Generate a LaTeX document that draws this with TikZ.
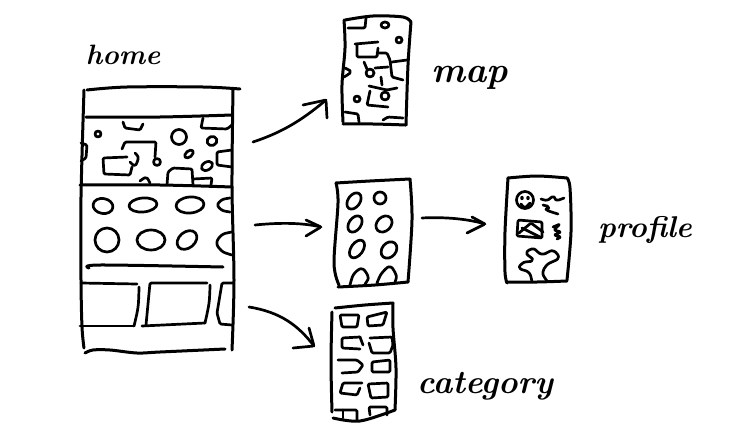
\documentclass[tikz,border=0pt]{standalone}
\usepackage{tikz}
\tikzset{
	sketch/.style={line width=2.7pt, line cap=round, line join=round, rounded corners=1.2pt},
	frameline/.style={line width=3pt, line cap=round, line join=round},
	word/.style={inner sep=0pt, font=\fontsize{#1}{#1}\selectfont\bfseries\itshape},
}
\def\blob(#1)(#2:#3:#4){\draw[sketch,rounded corners=0pt,rotate around={#4:(#1)}] (#1) ellipse ({#2} and {#3});}
\def\wob#1{\draw[frameline] plot[smooth,tension=.55] coordinates {#1};}
\def\pen#1{\draw[sketch] plot[smooth,tension=.6] coordinates {#1};}

\begin{document}
\begin{tikzpicture}[x=1pt,y=-1pt]
	%%%%% START %%%%%
	\useasboundingbox (0,0) rectangle (750,439);

	\node[word=28] (homelabel) at (123,55) {home};
	\node[word=36] (maplabel) at (470,78) {map};
	\node[word=30] (profilelabel) at (645,230) {profile};
	\node[word=33] (categorylabel) at (485,386) {category};

	% home frame
	\wob{(87,90) (127,87) (203,87) (240,89)}
	\wob{(84,90) (81,197) (81,280) (82,327) (84,348)}
	\wob{(233,90) (232,187) (234,280) (232,350)}
	\wob{(86,117) (160,117) (232,115)}
	\wob{(80,185) (160,185) (232,187)}
	\wob{(85,353) (93,350) (110,350) (137,353) (160,352) (225,349)}
	\wob{(89,268) (100,265) (223,267)}

	% home map strip
	\blob(98,134)(3:3:0)
	\draw[sketch] (123,122) -- (125,128) -- (140,130) -- (143,124);
	\blob(179,137)(7.5:7.5:0)
	\blob(212,141)(5:4.5:20)
	\draw[sketch] (203,118) -- (201,128) -- (227,129) -- (232,125);
	\draw[sketch] (81,143) -- (87,145) -- (86,158) -- (81,161);
	\draw[sketch] (122,149) -- (125,142) -- (156,142) -- (155,157);
	\draw[sketch] (127,157) -- (103,158) -- (104,174) -- (130,175) -- (132,167);
	\pen{(135,153) (138,158) (135,165) (130,162)}
	\blob(157,162)(3.5:3.5:0)
	\blob(189,154)(5:3:40)
	\blob(207,166)(6:4:30)
	\draw[sketch] (232,150) -- (217,152) -- (217,165) -- (232,167);
	\draw[sketch] (167,185) -- (168,172) -- (173,168) -- (192,169) -- (193,185);
	\draw[sketch] (193,179) -- (212,178) -- (211,185);
	\pen{(140,181) (146,178) (150,183)}

	% home rows of spots
	\blob(103,206)(10:7.5:-10)
	\blob(143,205)(14:7:5)
	\blob(190,205)(14:8:5)
	\pen{(230,198) (222,200) (218,205) (222,210) (230,212)}
	\blob(107,240)(12:12:0)
	\blob(151,240)(14:10:0)
	\blob(187,240)(11:8:40)
	\pen{(232,232) (222,235) (217,243) (222,251) (232,255)}

	% home cards
	\draw[sketch] (81,283) -- (137,284);
	\pen{(139,287) (138,307) (134,326)}
	\draw[sketch] (80,326) -- (134,326);
	\draw[sketch] (146,325) -- (150,283) -- (207,283);
	\pen{(210,285) (209,303) (205,323)}
	\draw[sketch] (142,326) -- (205,323);
	\draw[sketch] (233,283) -- (222,283) -- (217,313) -- (220,324) -- (232,325);

	% map phone
	\wob{(345,20) (373,16) (403,17) (411,22)}
	\wob{(411,22) (408,65) (406,125)}
	\wob{(344,20) (345,48) (342,85) (343,122)}
	\wob{(343,124) (373,124) (406,125)}
	\draw[sketch] (348,28) -- (365,28) -- (366,18);
	\blob(385,25)(4:3:0)
	\blob(399,40)(3:3:0)
	\draw[sketch] (355,44) -- (378,42);
	\draw[sketch] (357,45) -- (357,57) -- (377,57) -- (378,48);
	\draw[sketch] (377,53) -- (387,53) -- (390,60) -- (392,77) -- (403,80);
	\draw[sketch] (392,62) -- (407,60);
	\draw[sketch] (364,62) -- (367,69);
	\blob(370,73)(4:4:0)
	\draw[sketch] (375,68) -- (388,67);
	\draw[sketch] (381,77) -- (382,85);
	\draw[sketch] (369,86) -- (387,90) -- (397,88);
	\blob(385,96)(4:4:0)
	\draw[sketch] (370,91) -- (367,105) -- (388,107);
	\pen{(345,68) (350,72) (344,77)}
	\blob(357,99)(3:3:0)
	\draw[sketch] (345,112) -- (358,114) -- (359,122);
	\draw[sketch] (383,120) -- (388,117) -- (403,118);

	% spots phone
	\wob{(336,183) (370,181) (410,179)}
	\wob{(410,179) (412,220) (408,282)}
	\wob{(338,287) (375,285) (408,282)}
	\wob{(336,183) (338,203) (334,263) (339,285)}
	\blob(354,201)(9:6:55)
	\blob(380,198)(6:6:0)
	\blob(355,224)(9:6:55)
	\blob(384,224)(9:7:45)
	\blob(357,249)(10:6:55)
	\blob(389,250)(9:7:50)
	\pen{(350,285) (354,274) (362,269) (368,277) (365,284)}
	\pen{(377,283) (382,273) (390,267) (396,275) (395,282)}

	% profile phone
	\wob{(508,178) (537,176) (567,178)}
	\wob{(567,178) (570,188) (571,232) (567,280)}
	\wob{(507,282) (537,282) (567,281)}
	\wob{(508,178) (505,232) (505,272) (507,283)}
	\blob(525,200)(8.5:8.5:0)
	\blob(522,198)(.6:.8:0)
	\blob(528,198)(.6:.8:0)
	\pen{(521,204) (525,207) (530,203)}
	\pen{(541,199) (547,200) (553,197) (557,200) (564,198)}
	\pen{(543,205) (548,207) (547,210) (558,214)}
	\draw[sketch] (518,220) -- (542,222) -- (542,238) -- (517,236) -- cycle;
	\draw[sketch] (519,233) -- (531,223) -- (543,232);
	\draw[sketch] (522,228) -- (540,237);
	\draw[sketch] (553,227) -- (560,224) -- (554,230) -- (561,232) -- (554,235) -- (561,237) -- (557,239);
	\pen{(532,282) (529,273) (520,268) (523,263) (532,260) (527,253) (533,249) (542,254) (553,251) (558,258) (547,265) (543,273) (547,281)}

	% category phone
	\wob{(335,308) (365,305) (393,303)}
	\wob{(393,303) (393,328) (396,368) (395,410)}
	\wob{(333,418) (360,421) (395,410)}
	\wob{(332,312) (331,362) (332,412)}
	\draw[sketch] (340,315) -- (359,315) -- (357,327) -- (342,327) -- cycle;
	\draw[sketch] (367,317) -- (387,312) -- (383,325) -- (368,326) -- cycle;
	\draw[sketch] (360,337) -- (342,338) -- (342,348) -- (360,349);
	\draw[sketch] (360,337) -- (363,345);
	\draw[sketch] (370,338) -- (392,337) -- (393,345) -- (390,353) -- (372,353) -- (369,343);
	\draw[sketch] (338,360) -- (357,360) -- (363,365) -- (358,372) -- (342,373);
	\draw[sketch] (372,362) -- (390,360) -- (390,372) -- (372,372) -- cycle;
	\draw[sketch] (362,383) -- (343,383) -- (340,393) -- (357,395) -- (360,388);
	\draw[sketch] (368,384) -- (388,383) -- (388,397) -- (371,398) -- cycle;
	\draw[sketch] (335,410) -- (357,410) -- (357,420);
	\draw[sketch] (343,410) -- (343,418);
	\draw[sketch] (370,415) -- (369,407) -- (387,407) -- (387,415);

	% arrows
	\coordinate (homemap) at (253,142);
	\coordinate (maptip) at (326,100);
	\coordinate (homespots) at (255,225);
	\coordinate (spotstip) at (321,227);
	\coordinate (spotsprofile) at (422,218);
	\coordinate (profiletip) at (485,224);
	\coordinate (homecat) at (249,307);
	\coordinate (cattip) at (314,346);

	\draw[sketch] (homemap) .. controls (280,133) and (300,122) .. (maptip);
	\draw[sketch] (303,105) -- (maptip) -- (327,118);
	\draw[sketch] (homespots) .. controls (275,223) and (300,222) .. (spotstip);
	\draw[sketch] (306,220) -- (spotstip) -- (306,236);
	\draw[sketch] (spotsprofile) .. controls (440,217) and (465,218) .. (profiletip);
	\draw[sketch] (472,217) -- (profiletip) -- (467,233);
	\draw[sketch] (homecat) .. controls (280,312) and (298,325) .. (cattip);
	\draw[sketch] (309,328) -- (cattip) -- (293,348);
	%%%%% END %%%%%
\end{tikzpicture}
\end{document}
